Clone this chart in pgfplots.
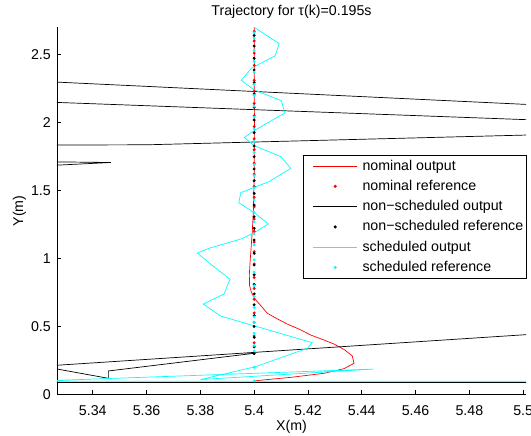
\documentclass[border=0pt]{standalone}
\usepackage{fontspec}
\setmainfont{Liberation Sans}
\usepackage{pgfplots}
\pgfplotsset{compat=1.18}
\definecolor{mcyan}{rgb}{0,1,1}
\definecolor{mred}{rgb}{1,0,0}
\newcommand{\f}{\fontsize{14.2}{17}\selectfont}
\pgfplotsset{
  linelegend/.style={legend image code/.code={\path (0pt,0pt); \draw[##1] (6pt,0pt) -- (50pt,0pt);}},
  marklegend/.style={legend image code/.code={\path (0pt,0pt) (50pt,0pt); \draw[##1] plot coordinates {(28pt,0pt)};}},
}
\begin{document}
\begin{tikzpicture}
\begin{axis}[
  scale only axis, width=469pt, height=367.2pt,
  xmin=5.3267, xmax=5.50105, ymin=0, ymax=2.7,
  axis x line*=bottom, axis y line*=left,
  axis line style={black, line width=0.6pt},
  tick align=inside, major tick length=4pt,
  tick style={black, line width=0.6pt},
  xtick={5.34,5.36,5.38,5.4,5.42,5.44,5.46,5.48,5.5},
  xticklabels={5.34,5.36,5.38,5.4,5.42,5.44,5.46,5.48,5.5},
  ytick={0,0.5,1,1.5,2,2.5},
  yticklabels={0,0.5,1,1.5,2,2.5},
  xticklabel style={font=\f, anchor=base, inner sep=0pt, yshift=-20.6pt},
  yticklabel style={font=\f, anchor=east, inner sep=0pt, xshift=-6pt},
  title={Trajectory for τ(k)=0.195s},
  title style={font=\f, anchor=base, inner sep=0pt, at={(axis description cs:0.5,1.0163)}},
  xlabel={X(m)},
  xlabel style={font=\f, anchor=base, at={(axis description cs:0.5,-0.0994)}},
  ylabel={Y(m)},
  ylabel style={font=\f, anchor=base, at={(axis description cs:-0.0723,0.5)}},
  legend style={font=\f, at={(1.002,0.653)}, anchor=north east, draw=black, line width=0.6pt,
    inner xsep=3.4pt, inner ysep=3pt, row sep=4.3pt, column sep=5pt,
    nodes={inner sep=0pt, text height=12pt, text depth=4pt}},
  legend cell align=left,
]
% nominal output
\addplot[mred, line width=0.7pt, mark=none, linelegend] coordinates {
(5.4000,2.700) (5.4000,2.400) (5.4001,2.000) (5.4000,1.600) (5.3997,1.350)
(5.3993,1.200) (5.3989,1.090) (5.3985,0.980) (5.3982,0.880) (5.3983,0.800)
(5.3990,0.750) (5.4006,0.695) (5.4024,0.655) (5.4049,0.597) (5.4086,0.556)
(5.4123,0.518) (5.4170,0.478) (5.4210,0.4375) (5.4260,0.400) (5.4297,0.371)
(5.4335,0.330) (5.4365,0.283) (5.4371,0.229) (5.4334,0.190) (5.4260,0.156)
(5.4136,0.126) (5.4050,0.110) (5.4000,0.100)
};
\addlegendentry{nominal output}
% nominal reference
\addplot[only marks, mark=*, mark size=1.25pt, mark options={draw=mred, fill=mred}, marklegend] coordinates {
(5.4,0.380) (5.4,0.430) (5.4,0.530) (5.4,0.600) (5.4,0.700) (5.4,0.780)
(5.4,0.860) (5.4,0.960) (5.4,1.050) (5.4,1.120) (5.4,1.200) (5.4,1.290)
(5.4,1.380) (5.4,1.450) (5.4,1.530) (5.4,1.620) (5.4,1.700) (5.4,1.800)
(5.4,1.880) (5.4,1.970) (5.4,2.050) (5.4,2.140) (5.4,2.230) (5.4,2.310)
(5.4,2.420) (5.4,2.510) (5.4,2.600) (5.4,2.670)
};
\addlegendentry{nominal reference}
% non-scheduled output
\addplot[black, line width=0.7pt, mark=none, linelegend] coordinates {
(5.4000,0.303) (5.3458,0.173) (5.3458,0.119) (5.3000,0.283) (5.3000,0.1806)
(5.6000,0.5676) (5.6000,0.088) (5.3000,0.088) (5.3000,1.716) (5.3467,1.706)
(5.3000,1.660) (5.3000,1.833) (5.3600,1.836) (5.6000,1.958) (5.6000,1.949)
(5.3000,2.167) (5.3000,2.322) (5.6000,2.040)
};
\addlegendentry{non−scheduled output}
% non-scheduled reference
\addplot[only marks, mark=*, mark size=1.25pt, mark options={draw=black, fill=black}, marklegend] coordinates {
(5.4,0.300) (5.4,0.350) (5.4,0.420) (5.4,0.500) (5.4,0.580) (5.4,0.660)
(5.4,0.740) (5.4,0.810) (5.4,0.880) (5.4,0.952) (5.4,1.038) (5.4,1.136)
(5.4,1.222) (5.4,1.307) (5.4,1.393) (5.4,1.479) (5.4,1.572) (5.4,1.658)
(5.4,1.748) (5.4,1.827) (5.4,1.925) (5.4,2.018) (5.4,2.112) (5.4,2.210)
(5.4,2.293) (5.4,2.386) (5.4,2.472) (5.4,2.562) (5.4,2.640)
};
\addlegendentry{non−scheduled reference}
% scheduled output
\addplot[mcyan, line width=0.7pt, mark=none, linelegend] coordinates {
(5.6000,0.098) (5.3000,0.098) (5.3000,0.085) (5.4444,0.187) (5.3801,0.110)
(5.4006,0.205) (5.4198,0.340) (5.4216,0.381) (5.3875,0.577) (5.3811,0.665)
(5.3888,0.739) (5.3910,0.847) (5.3834,0.965) (5.3789,1.040) (5.3832,1.075)
(5.3954,1.145) (5.4000,1.190) (5.4053,1.254) (5.4000,1.337) (5.3943,1.410)
(5.3950,1.484) (5.4055,1.565) (5.4136,1.663) (5.4099,1.749) (5.4000,1.830)
(5.3963,1.890) (5.4000,1.940) (5.4114,2.070) (5.4101,2.160) (5.4000,2.240)
(5.3952,2.310) (5.3990,2.400) (5.4078,2.490) (5.4093,2.580) (5.4000,2.700)
};
\addlegendentry{scheduled output}
% scheduled reference
\addplot[only marks, mark=*, mark size=1.25pt, mark options={draw=mcyan, fill=mcyan}, marklegend] coordinates {
(5.4,0.100) (5.4,0.200) (5.4,0.320) (5.4,0.360) (5.4,0.450) (5.4,0.530)
(5.4,0.570) (5.4,0.640) (5.4,0.720) (5.4,0.800) (5.4,0.900) (5.4,0.990)
(5.4,1.100) (5.4,1.180) (5.4,1.270) (5.4,1.340) (5.4,1.430) (5.4,1.520)
(5.4,1.610) (5.4,1.690) (5.4,1.780) (5.4,1.860) (5.4,1.950) (5.4,2.040)
(5.4,2.120) (5.4,2.200) (5.4,2.280) (5.4,2.370) (5.4,2.450) (5.4,2.530)
(5.4,2.620) (5.4,2.660)
};
\addlegendentry{scheduled reference}
\end{axis}
\pgfresetboundingbox
\path[use as bounding box] (-57pt,-41.5pt) rectangle (474pt,394.5pt);
\end{tikzpicture}
\end{document}
